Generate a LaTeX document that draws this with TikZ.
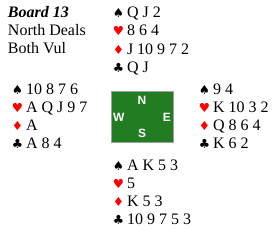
\documentclass[tikz,border=0pt]{standalone}
\usepackage{fontspec}
\setmainfont{Liberation Serif}
\newfontfamily\symfont{DejaVu Sans}
\newfontfamily\compfont{Liberation Sans}
\definecolor{boxgreen}{RGB}{34,125,34}
\definecolor{boxgray}{RGB}{160,160,160}
\definecolor{suitred}{RGB}{255,0,0}
\begin{document}
\begin{tikzpicture}[x=1pt,y=-1pt,
  every node/.style={inner sep=0pt,outer sep=0pt},
  txt/.style={anchor=base west,font=\fontsize{16}{18}\selectfont},
  sym/.style={anchor=base,font=\symfont\fontsize{12.5}{12}\selectfont},
  blk/.style={sym,text=black},
  rd/.style={sym,text=suitred},
  compassletter/.style={font=\compfont\bfseries\fontsize{12}{12}\selectfont,text=white}]
\useasboundingbox (0,0) rectangle (275,230);
% info
\node[txt,font=\fontsize{16}{18}\selectfont\bfseries\itshape] (board) at (8,17.5) {Board 13};
\node[txt] (deal) at (8,35.5) {North Deals};
\node[txt] (vul) at (8,53.5) {Both Vul};
% North
\node[blk] (ns) at (118.5,18) {♠}; \node[txt] (nS) at (127,18) {Q J 2};
\node[rd]  (nh) at (118.5,36) {♥}; \node[txt] (nH) at (127,36) {8 6 4};
\node[rd]  (nd) at (118.5,54) {♦}; \node[txt] (nD) at (127,54) {J 10 9 7 2};
\node[blk] (nc) at (118.5,72) {♣}; \node[txt] (nC) at (127,72) {Q J};
% West
\node[blk] (ws) at (17.5,94.5) {♠}; \node[txt] (wS) at (26,94.5) {10 8 7 6};
\node[rd]  (wh) at (17.5,112.5) {♥}; \node[txt] (wH) at (26,112.5) {A Q J 9 7};
\node[rd]  (wd) at (17.5,130.5) {♦}; \node[txt] (wD) at (26,130.5) {A};
\node[blk] (wc) at (17.5,148.5) {♣}; \node[txt] (wC) at (26,148.5) {A 8 4};
% East
\node[blk] (es) at (204.5,94.5) {♠}; \node[txt] (eS) at (213,94.5) {9 4};
\node[rd]  (eh) at (204.5,112.5) {♥}; \node[txt] (eH) at (213,112.5) {K 10 3 2};
\node[rd]  (ed) at (204.5,130.5) {♦}; \node[txt] (eD) at (213,130.5) {Q 8 6 4};
\node[blk] (ec) at (204.5,148.5) {♣}; \node[txt] (eC) at (213,148.5) {K 6 2};
% South
\node[blk] (ss) at (118.5,170) {♠}; \node[txt] (sS) at (127,170) {A K 5 3};
\node[rd]  (sh) at (118.5,188) {♥}; \node[txt] (sH) at (127,188) {5};
\node[rd]  (sd) at (118.5,206) {♦}; \node[txt] (sD) at (127,206) {K 5 3};
\node[blk] (sc) at (118.5,224) {♣}; \node[txt] (sC) at (127,224) {10 9 7 5 3};
% compass
\node[draw=boxgray,fill=boxgreen,line width=1pt,minimum width=62pt,minimum height=51pt] (compass) at (142,116.5) {};
\node[compassletter,anchor=base] (cN) at (142,104) {N};
\node[compassletter,anchor=base west] (cW) at (113,121) {W};
\node[compassletter,anchor=base east] (cE) at (171,121) {E};
\node[compassletter,anchor=base] (cS) at (142,137) {S};
\end{tikzpicture}
\end{document}
